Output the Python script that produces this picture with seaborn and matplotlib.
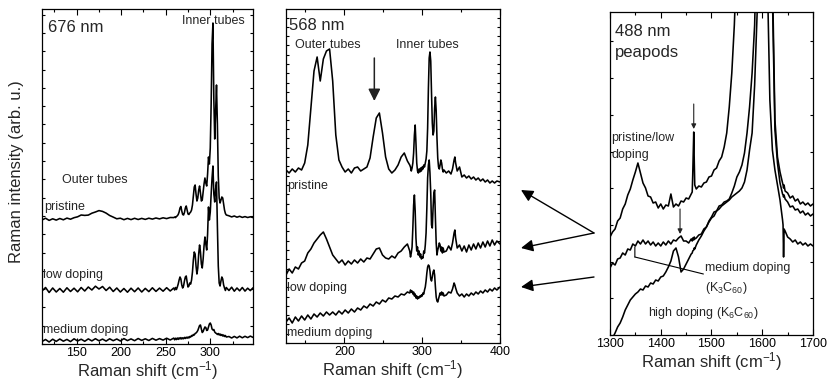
import numpy as np
import pandas as pd
import matplotlib
matplotlib.use("Agg")
import matplotlib.pyplot as plt
import seaborn as sns
from matplotlib.ticker import MultipleLocator, NullFormatter
from matplotlib.patches import FancyArrowPatch

sns.set_style("ticks")
plt.rcParams["font.family"] = ["Liberation Sans", "DejaVu Sans"]
plt.rcParams["mathtext.fontset"] = "custom"
plt.rcParams["mathtext.rm"] = "Liberation Sans"
plt.rcParams["mathtext.it"] = "Liberation Sans:italic"
plt.rcParams["mathtext.bf"] = "Liberation Sans:bold"

# ---------------- Panel 1 : 676 nm ----------------
P1_X = [111, 115, 119, 123, 127, 131, 135, 139, 143, 147, 151, 155, 159, 163, 167, 171, 175, 179, 183,
        187, 191, 195, 199, 203, 207, 211, 215, 219, 223, 227, 231, 235, 239, 243, 247, 251, 255, 259,
        260, 261, 262, 263, 264, 265, 266, 267, 268, 269, 270, 271, 272, 273, 274, 275, 276, 277, 278, 279,
        280, 281, 282, 283, 284, 285, 286, 287, 288, 289, 290, 291, 292, 293, 294, 295, 296, 297, 298, 299,
        300, 301, 302, 303, 304, 305, 306, 307, 308, 309, 310, 311, 312, 313, 314, 315, 316, 317, 318,
        321, 324, 327, 330, 333, 336, 339, 342, 345, 348]
P1_PRISTINE = [124.0, 125.8, 123.6, 125.2, 123.9, 125.5, 124.2, 125.9, 124.8, 126.3,
               127.2, 129.0, 128.6, 128.9, 130.8, 132.0, 133.4, 132.6, 130.9, 128.5,
               126.9, 125.2, 125.8, 124.3, 125.6, 124.4, 125.7, 124.5, 125.6, 124.6,
               125.8, 124.9, 126.0, 125.1, 126.2, 125.4, 126.5, 126.4,
               127.0, 126.4, 127.5, 128.2, 129.5, 132.0, 136.0, 137.5, 133.0, 129.5,
               129.0, 131.5, 136.0, 138.0, 134.0, 130.0, 129.5, 131.0, 132.0, 134.0,
               139.0, 148.0, 157.0, 159.0, 150.0, 143.0, 146.0, 154.0, 158.0, 151.0,
               143.0, 144.0, 152.0, 160.0, 166.0, 161.0, 158.0, 170.0, 187.0, 180.0,
               196.0, 240.0, 300.0, 321.0, 245.0, 205.0, 232.0, 259.0, 220.0, 168.0,
               146.0, 141.0, 144.0, 147.0, 146.0, 140.0, 134.0, 130.5, 129.0,
               128.2, 127.1, 128.0, 126.8, 127.7, 126.6, 127.4, 126.5, 127.2, 126.4]
P1_LOW = [53.0, 56.5, 51.5, 56.0, 52.0, 55.5, 51.8, 56.2, 52.5, 55.8,
          52.2, 56.5, 53.0, 57.0, 54.0, 57.8, 55.0, 57.5, 53.5, 56.8,
          52.5, 56.0, 52.0, 55.5, 51.8, 55.8, 52.3, 56.0, 52.0, 55.6,
          52.4, 56.2, 52.6, 55.9, 52.8, 56.3, 53.0, 56.0,
          54.0, 56.5, 54.5, 57.0, 60.0, 64.0, 67.0, 65.0, 59.0, 56.0,
          58.0, 63.0, 67.0, 68.0, 62.0, 57.0, 58.0, 61.0, 60.0, 64.0,
          72.0, 84.0, 92.0, 90.0, 78.0, 70.0, 76.0, 90.0, 99.0, 92.0,
          80.0, 76.0, 85.0, 98.0, 107.0, 100.0, 94.0, 110.0, 137.0, 124.0,
          132.0, 150.0, 166.0, 178.0, 150.0, 142.0, 155.0, 162.0, 118.0, 78.0,
          61.0, 58.0, 63.0, 67.0, 65.0, 59.0, 56.0, 53.5, 56.5,
          53.5, 56.8, 52.8, 56.0, 53.2, 56.5, 52.9, 55.8, 53.4, 56.2]
P1_MEDIUM = [2.5, 4.5, 2.0, 4.8, 2.6, 5.0, 2.8, 4.6, 2.4, 5.2,
             3.0, 4.8, 2.7, 5.1, 3.1, 5.3, 3.2, 4.9, 2.9, 5.2,
             3.3, 5.0, 3.0, 5.4, 3.4, 5.1, 3.3, 5.5, 3.6, 5.2,
             3.5, 5.6, 3.8, 5.4, 3.9, 5.8, 4.0, 5.9,
             4.2, 5.8, 4.4, 6.0, 4.6, 6.2, 5.0, 6.4, 5.0, 6.2,
             5.2, 6.6, 5.5, 6.8, 5.8, 7.0, 6.0, 7.5, 7.0, 8.5,
             8.0, 9.5, 9.0, 10.5, 11.0, 12.0, 13.5, 16.0, 18.5, 19.0,
             15.0, 11.5, 12.5, 15.0, 17.0, 16.5, 13.5, 14.0, 17.0, 20.0,
             21.0, 19.0, 15.0, 14.0, 14.5, 12.0, 11.0, 10.5, 9.5, 10.5,
             9.0, 10.0, 8.5, 9.5, 8.0, 9.0, 7.5, 8.5, 7.0,
             7.5, 6.0, 7.6, 6.1, 7.8, 6.2, 7.7, 6.4, 7.9, 6.6]

# ---------------- Panel 2 : 568 nm ----------------
P2_X = [125, 129, 133, 137, 141, 145, 149, 153, 157, 161, 165, 169, 173, 177, 181, 185, 189, 193, 197, 201,
        205, 209, 213, 217, 221, 225, 229, 233, 237, 241, 245, 249, 253, 257, 261, 265, 269, 273, 277, 281,
        284, 285, 286, 287, 288, 289, 290, 291, 292, 293, 294, 295, 296, 297, 298, 299, 300, 301, 302, 303,
        304, 305, 306, 307, 308, 309, 310, 311, 312, 313, 314, 315, 316, 317, 318, 319, 320, 321, 322, 323,
        324, 325, 326, 327, 328,
        331, 334, 337, 339, 341, 342, 343, 345, 348, 351, 354, 357, 360, 363, 366, 369, 372, 375, 378, 381,
        384, 387, 390, 393, 396, 400]
P2_PRISTINE = [173, 170, 174, 171, 175, 173, 180, 198, 235, 272,
               286, 262, 284, 292, 294, 262, 208, 183, 176, 171,
               174, 170, 175, 176, 172, 174, 176, 185, 206, 225,
               230, 210, 186, 174, 170, 173, 178, 186, 190, 182,
               178, 176, 172, 175, 180, 190, 208, 218, 200, 180,
               172, 170, 174, 171, 175, 172, 176, 174, 178, 176,
               180, 184, 192, 215, 255, 285, 291, 282, 250, 220,
               208, 212, 235, 246, 232, 205, 185, 176, 174, 178,
               183, 180, 174, 171, 173,
               170, 172, 169, 174, 183, 186, 180, 172, 176,
               166, 168, 165, 167, 164, 166, 163, 165, 162, 164, 161, 163, 160, 162, 160, 162, 161]
P2_LOW = [68, 74, 70, 76, 74, 80, 82, 90, 94, 100,
          104, 108, 111, 104, 96, 88, 84, 80, 83, 78,
          82, 79, 83, 80, 84, 81, 85, 84, 89, 94,
          95, 88, 85, 84, 87, 85, 90, 92, 96, 99,
          92, 86, 90, 96, 115, 138, 148, 132, 105, 92,
          96, 88, 92, 86, 89, 84, 86, 85, 92, 90,
          98, 110, 135, 165, 178, 183, 170, 150, 118, 115,
          135, 150, 153, 125, 100, 88, 93, 96, 100, 98,
          92, 96, 90, 95, 91,
          92, 97, 93, 100, 110, 113, 105, 95, 98,
          92, 97, 91, 98, 93, 99, 94, 100, 95, 101, 96, 102, 97, 103, 98, 102, 99]
P2_MEDIUM = [21, 25, 20, 26, 22, 27, 23, 28, 24, 29,
             26, 30, 27, 31, 28, 31, 28, 32, 29, 33,
             30, 34, 31, 35, 33, 37, 35, 39, 37, 41,
             39, 43, 41, 45, 44, 47, 46, 49, 48, 51,
             50, 53, 51, 52, 49, 51, 47, 49, 45, 47,
             44, 46, 45, 47, 46, 48, 47, 50, 49, 53,
             56, 62, 70, 76, 78, 77, 72, 64, 62, 66,
             71, 73, 68, 56, 46, 42, 41, 44, 47, 50,
             48, 51, 48, 50, 47,
             48, 51, 50, 54, 60, 58, 55, 50, 47,
             49, 46, 49, 47, 50, 48, 51, 49, 52, 50, 53, 51, 54, 52, 55, 53, 56]

# ---------------- Panel 3 : 488 nm peapods ----------------
P3_X = [1300, 1305, 1310, 1315, 1320, 1325, 1330, 1335, 1340, 1345,
        1350, 1355, 1360, 1365, 1370, 1375, 1380, 1385, 1390, 1395,
        1400, 1405, 1410, 1415, 1420, 1425, 1430, 1435, 1440, 1445,
        1450, 1455, 1460,
        1462, 1463, 1465, 1466, 1467,
        1470, 1475, 1480, 1485, 1490, 1495, 1500, 1505, 1510, 1515,
        1520, 1525, 1530, 1535, 1540, 1545, 1550, 1555, 1560, 1565,
        1570, 1575, 1580, 1585, 1590, 1595, 1600, 1605, 1610, 1615,
        1620, 1625, 1630, 1635, 1640,
        1641, 1642, 1643,
        1645, 1650, 1655, 1660, 1665, 1670, 1675, 1680, 1685, 1690, 1695, 1700]
P3_PRISTINE_LOW = [98, 103, 106, 114, 117, 126, 131, 140, 146, 155,
                   163, 172, 162, 152, 147, 139, 138, 132, 133, 127,
                   131, 126, 130, 129, 141, 128, 131, 129, 134, 133,
                   137, 136, 141,
                   143, 160, 203, 175, 150,
                   146, 149, 148, 152, 153, 158, 159, 165, 167, 174,
                   178, 188, 202, 228, 262, 310, 380, 440, 500, 550,
                   600, 650, 700, 730, 750, 740, 700, 640, 550, 450,
                   360, 215, 178, 163, 152,
                   150, 147, 150,
                   144, 142, 137, 139, 134, 136, 131, 133, 130, 132, 129, 131]
P3_MEDIUM = [67, 72, 70, 76, 77, 82, 80, 86, 85, 91,
             89, 94, 91, 95, 91, 94, 90, 93, 89, 92,
             89, 93, 90, 94, 91, 95, 94, 97, 99, 94,
             94, 92, 96,
             94, 97, 95, 98, 96,
             97, 100, 101, 106, 108, 114, 118, 123, 124, 129,
             130, 133, 134, 136, 142, 149, 158, 163, 170, 182,
             202, 228, 262, 310, 420, 560, 620, 580, 480, 400,
             340, 205, 172, 152, 141,
             140, 138, 140,
             136, 133, 128, 129, 125, 126, 122, 124, 120, 122, 119, 121]
P3_HIGH = [-6, -3, 2, 8, 12, 18, 25, 30, 35, 38,
           41, 43, 46, 45, 49, 48, 52, 51, 55, 54,
           58, 59, 63, 68, 74, 84, 87, 78, 63, 66,
           71, 76, 81,
           82, 84, 85, 87, 86,
           90, 95, 99, 104, 108, 113, 117, 119, 124, 126,
           129, 131, 133, 135, 138, 140, 142, 144, 147, 153,
           165, 185, 202, 250, 323, 450, 520, 480, 360, 235,
           185, 165, 150, 135, 115,
           110, 78, 106,
           104, 98, 96, 93, 95, 91, 93, 90, 92, 89, 91, 89]

W, H = 828, 383
fig = plt.figure(figsize=(W / 100, H / 100), dpi=100)


def ax_at(left, right, top, bottom):
    return fig.add_axes([left / W, 1 - bottom / H, (right - left) / W, (bottom - top) / H])


ax1 = ax_at(42, 253, 9, 344)
ax2 = ax_at(286, 500, 9, 343)
ax3 = ax_at(610, 813, 12, 335)


def draw(ax, x, curves):
    frames = []
    for name, y in curves.items():
        if len(y) != len(x):
            raise ValueError(f"{name}: {len(y)} vs {len(x)}")
        frames.append(pd.DataFrame({"shift": x, "intensity": y, "curve": name}))
    df = pd.concat(frames, ignore_index=True)
    sns.lineplot(data=df, x="shift", y="intensity", units="curve", estimator=None,
                 color="black", lw=1.15, ax=ax, sort=False, legend=False)


draw(ax1, P1_X, {"pristine": P1_PRISTINE, "low": P1_LOW, "medium": P1_MEDIUM})
draw(ax2, P2_X, {"pristine": P2_PRISTINE, "low": P2_LOW, "medium": P2_MEDIUM})
draw(ax3, P3_X, {"pristine/low": P3_PRISTINE_LOW, "medium": P3_MEDIUM, "high": P3_HIGH})

ax1.set_xlim(111, 348)
ax1.set_ylim(0, 335)
ax1.xaxis.set_major_locator(MultipleLocator(50))
ax1.xaxis.set_minor_locator(MultipleLocator(25))
ax1.yaxis.set_major_locator(MultipleLocator(18.3))

ax2.set_xlim(125, 400)
ax2.set_ylim(0, 334)
ax2.xaxis.set_major_locator(MultipleLocator(100))
ax2.xaxis.set_minor_locator(MultipleLocator(50))
ax2.yaxis.set_major_locator(MultipleLocator(9.3))

ax3.set_xlim(1300, 1700)
ax3.set_ylim(0, 323)
ax3.xaxis.set_major_locator(MultipleLocator(100))
ax3.xaxis.set_minor_locator(MultipleLocator(50))
ax3.yaxis.set_major_locator(MultipleLocator(36.7))

for ax in (ax1, ax2, ax3):
    ax.tick_params(axis="both", which="both", direction="in", top=True, right=True,
                   width=0.8, labelsize=9, pad=2, colors="black")
    ax.tick_params(axis="x", which="major", length=4)
    ax.tick_params(axis="x", which="minor", length=2.5)
    ax.tick_params(axis="y", which="major", length=2.5)
    ax.yaxis.set_major_formatter(NullFormatter())
    ax.set_ylabel("")
    ax.set_xlabel(r"Raman shift (cm$^{-1}$)", fontsize=12, labelpad=0)
    for s in ax.spines.values():
        s.set_linewidth(0.9)
        s.set_color("black")

# Panel 1 texts
ax1.text(118, 317, "676 nm", fontsize=12, va="center", ha="left")
ax1.text(268, 323, "Inner tubes", fontsize=9, va="center", ha="left")
ax1.text(134, 164, "Outer tubes", fontsize=9, va="center", ha="left")
ax1.text(113, 137, "pristine", fontsize=9, va="center", ha="left")
ax1.text(112.5, 69, "low doping", fontsize=9, va="center", ha="left")
ax1.text(112.5, 14, "medium doping", fontsize=9, va="center", ha="left")

# Panel 2 texts
ax2.text(129, 318, "568 nm", fontsize=12, va="center", ha="left")
ax2.text(136, 298, "Outer tubes", fontsize=9, va="center", ha="left")
ax2.text(266, 298, "Inner tubes", fontsize=9, va="center", ha="left")
ax2.text(126.5, 157, "pristine", fontsize=9, va="center", ha="left")
ax2.text(126.5, 55, "low doping", fontsize=9, va="center", ha="left")
ax2.text(126.5, 10, "medium doping", fontsize=9, va="center", ha="left")
ax2.annotate("", xy=(238.5, 242), xytext=(238.5, 285),
             arrowprops=dict(arrowstyle="-|>", color="#222222", lw=1.1,
                             mutation_scale=18, shrinkA=0, shrinkB=0))

# Panel 3 texts
ax3.text(1310, 303, "488 nm", fontsize=12, va="center", ha="left")
ax3.text(1310, 282, "peapods", fontsize=12, va="center", ha="left")
ax3.text(1303, 197, "pristine/low", fontsize=9, va="center", ha="left")
ax3.text(1303, 180, "doping", fontsize=9, va="center", ha="left")
ax3.text(1487, 67, "medium doping", fontsize=9, va="center", ha="left")
ax3.text(1487, 47, r"(K$_3$C$_{60}$)", fontsize=9, va="center", ha="left")
ax3.text(1375, 22, r"high doping (K$_6$C$_{60}$)", fontsize=9, va="center", ha="left")
ax3.annotate("", xy=(1465, 206), xytext=(1465, 231),
             arrowprops=dict(arrowstyle="-|>", color="#222222", lw=0.8,
                             mutation_scale=7, shrinkA=0, shrinkB=0))
ax3.annotate("", xy=(1438, 101), xytext=(1438, 126),
             arrowprops=dict(arrowstyle="-|>", color="#222222", lw=0.8,
                             mutation_scale=7, shrinkA=0, shrinkB=0))
ax3.annotate("", xy=(1349, 78), xytext=(1484, 61),
             arrowprops=dict(arrowstyle="-", color="black", lw=0.8, shrinkA=0, shrinkB=0))
ax3.annotate("", xy=(1349, 88), xytext=(1349, 78),
             arrowprops=dict(arrowstyle="-", color="black", lw=0.8, shrinkA=0, shrinkB=0))

# Arrows between panels
def fpos(px, py):
    return (px / W, 1 - py / H)


for start, end in [((594, 233), (521, 190)), ((594, 233), (521, 248)), ((594, 277), (521, 287))]:
    fig.add_artist(FancyArrowPatch(fpos(*start), fpos(*end), transform=fig.transFigure,
                                   arrowstyle="-|>", mutation_scale=18, lw=1.0,
                                   color="black", shrinkA=0, shrinkB=0))

fig.text(17 / W, 1 - 172 / H, "Raman intensity (arb. u.)", rotation=90,
         fontsize=12, va="center", ha="center")

fig.savefig("out.png", dpi=100)
